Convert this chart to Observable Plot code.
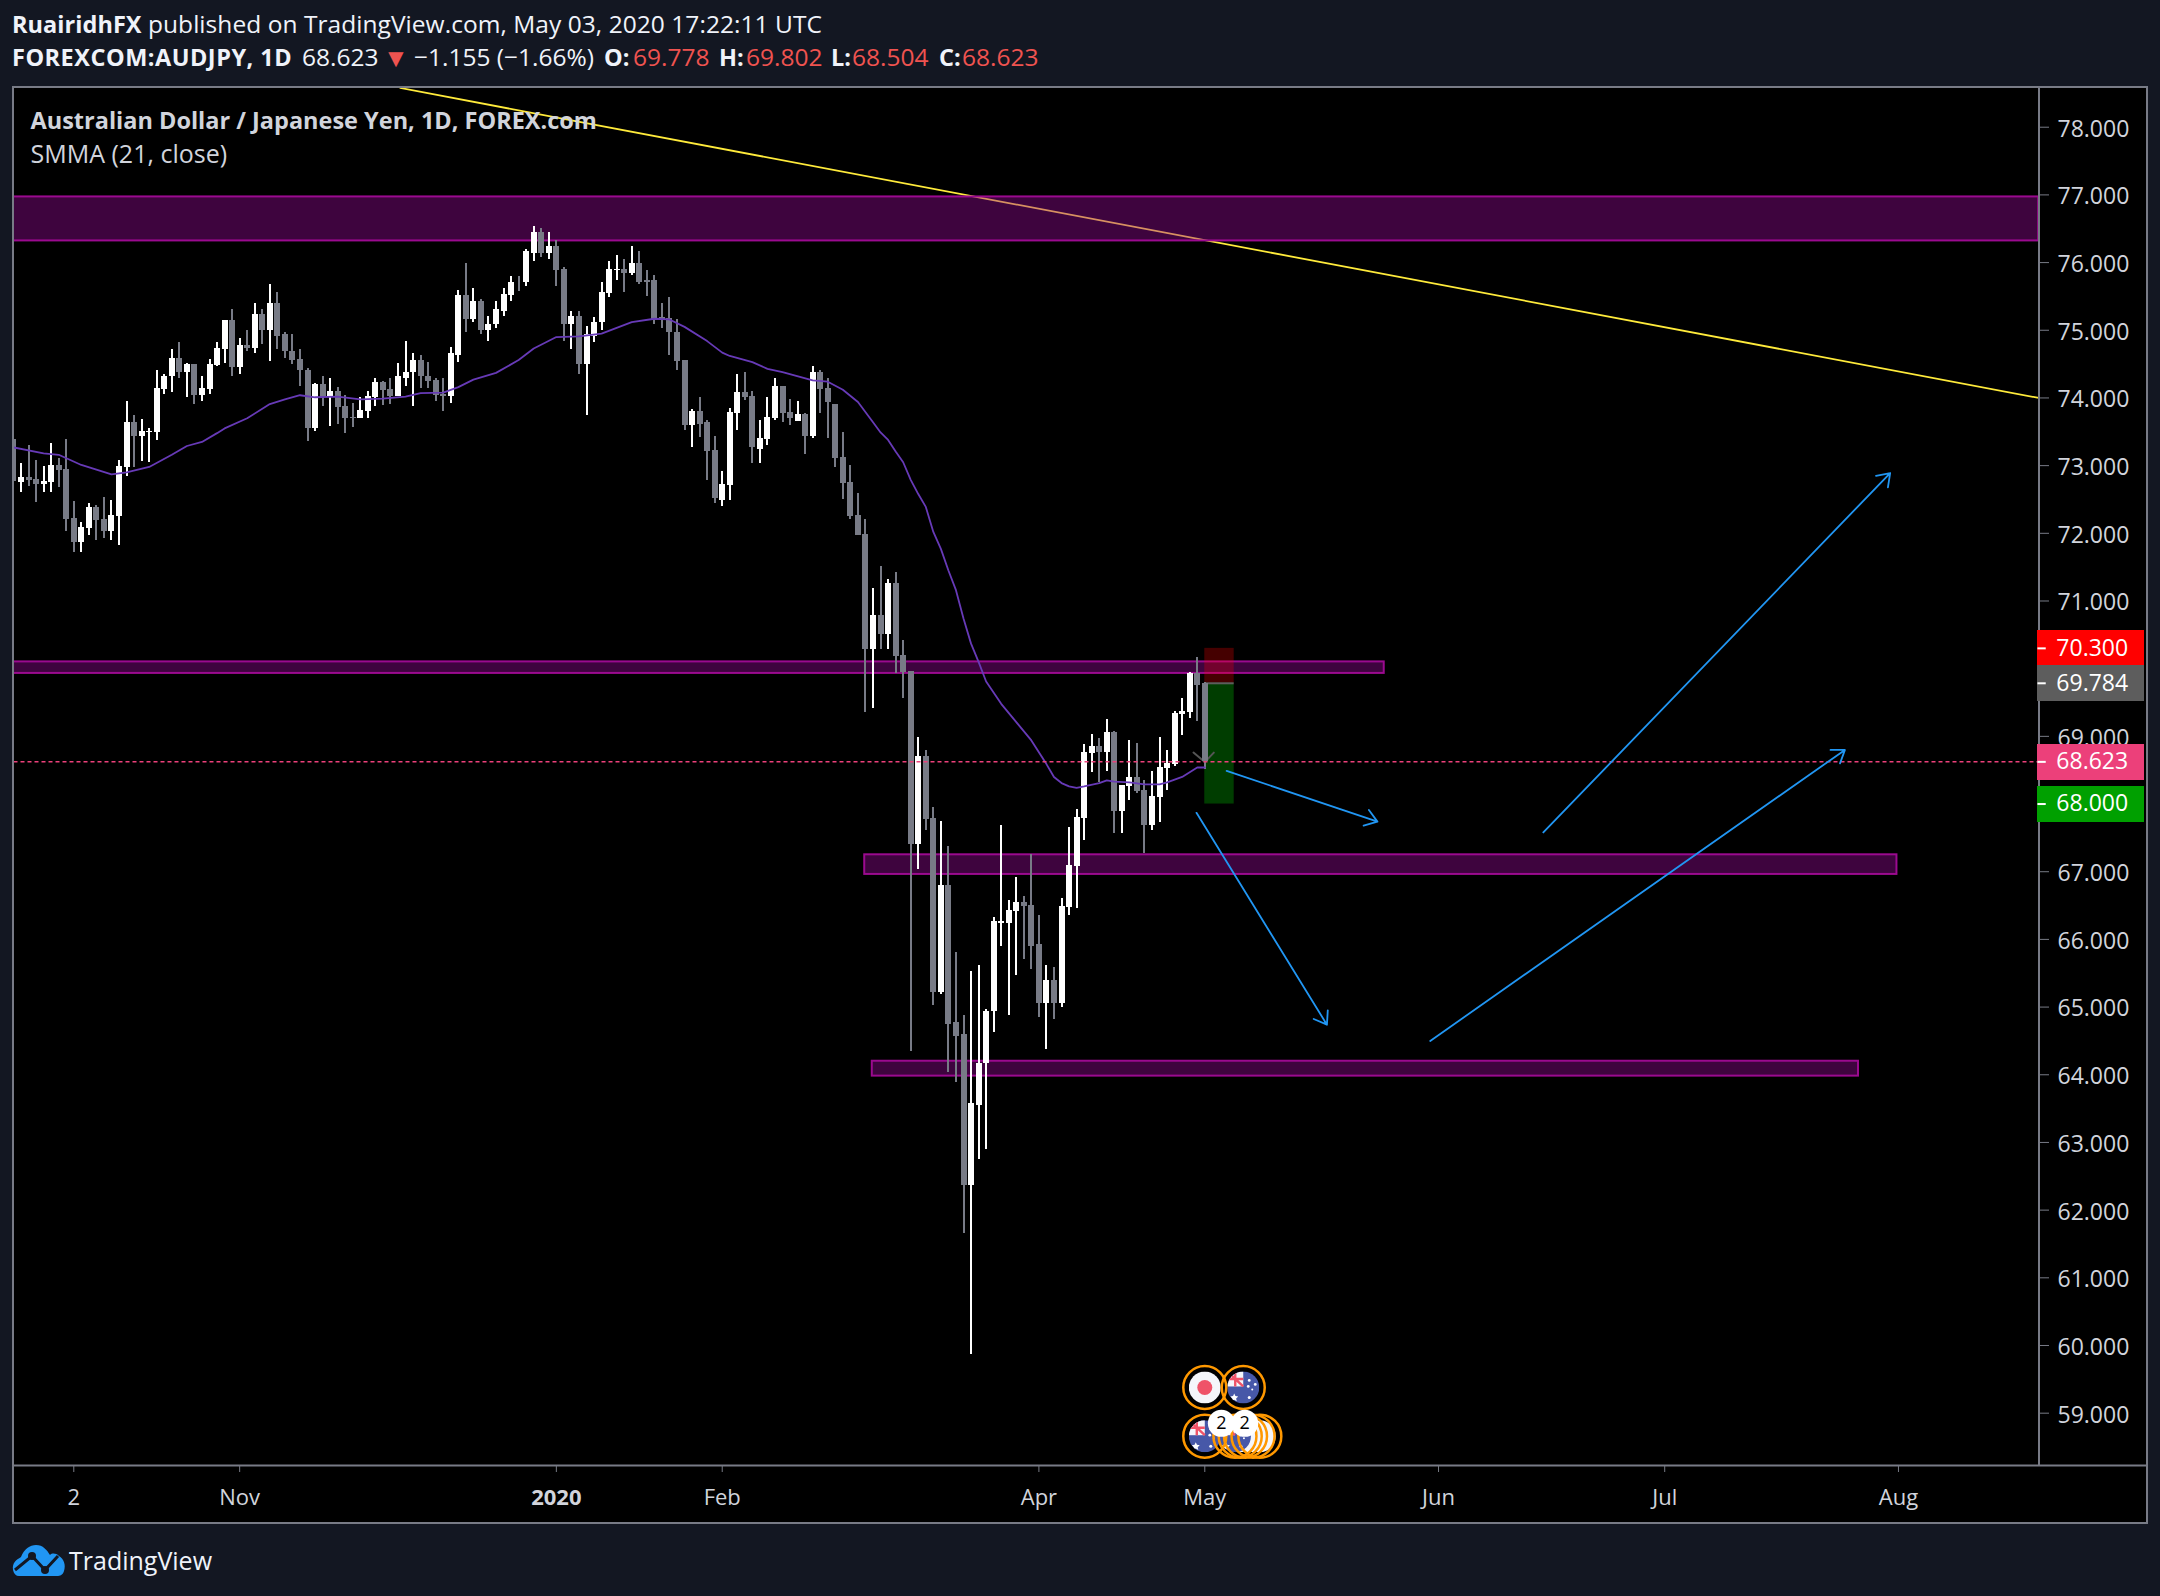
<!DOCTYPE html>
<html><head><meta charset="utf-8">
<script src="https://cdn.jsdelivr.net/npm/d3@7"></script>
<script src="https://cdn.jsdelivr.net/npm/@observablehq/plot@0.6"></script>
<style>
html,body{margin:0;padding:0;background:#131722;}
body{width:2160px;height:1596px;position:relative;overflow:hidden;font-family:"Open Sans",sans-serif;color:#fff;}
.hl{position:absolute;left:12px;font-size:24.5px;white-space:nowrap;color:#f0f3fa;line-height:30px;}
.hl b{font-weight:700;font-size:23.5px}
.hl span{position:absolute;top:0;white-space:nowrap}
.r{color:#ef5350}
#frame{position:absolute;left:12px;top:86px;width:2136px;height:1438px;box-sizing:border-box;border:2px solid #787b86;background:#000;}
#frame svg{display:block;background:transparent;}
#foot{position:absolute;left:12px;top:1543px;height:34px;display:flex;align-items:center;font-size:25px;color:#f0f3fa;}
#foot svg{margin-right:3px}
</style></head><body>
<div class="hl" style="top:9px;letter-spacing:0.05px"><b>RuairidhFX</b> published on TradingView.com, May 03, 2020 17:22:11 UTC</div>
<div class="hl" style="top:42px;left:0;width:1100px">
<span style="left:12px;letter-spacing:0.5px"><b>FOREXCOM:AUDJPY, 1D</b></span>
<span style="left:302px">68.623</span>
<span style="left:383px;font-size:26px" class="r">▼</span>
<span style="left:414px">−1.155 (−1.66%)</span>
<span style="left:604px"><b>O:</b></span><span style="left:633px" class="r">69.778</span>
<span style="left:719px"><b>H:</b></span><span style="left:746px" class="r">69.802</span>
<span style="left:831px"><b>L:</b></span><span style="left:852px" class="r">68.504</span>
<span style="left:939px"><b>C:</b></span><span style="left:962px" class="r">68.623</span>
</div>
<div id="frame"></div>
<div id="foot"><svg width="54" height="32" viewBox="0 0 54 32"><path d="M1 26 C0 19 4 16 9 13 C12 5 18 1 24 1 C31 1 35 6 38 11 C40 9 44 9 47 12 C52 15 54 21 52 27 C51 31 48 32 45 32 L7 32 C4 32 2 30 1 26 Z" fill="#2196f3"/><path d="M3 26 L20 12 L33 26 L46 12" fill="none" stroke="#131722" stroke-width="3"/><circle cx="20" cy="12" r="4" fill="#131722"/><circle cx="33" cy="26" r="4" fill="#131722"/></svg>TradingView</div>
<script>
const opens=[73.38,72.75,72.83,72.80,72.72,72.75,73.00,72.94,72.22,71.87,72.07,72.38,72.21,72.03,72.25,72.97,73.64,73.43,73.49,73.49,74.13,74.31,74.59,74.37,74.50,74.04,74.13,74.48,74.72,75.14,74.45,74.77,74.73,75.24,75.00,75.39,74.93,74.69,74.57,74.41,73.55,74.20,74.00,74.10,73.88,73.71,73.70,73.80,74.01,74.23,74.13,74.02,74.29,74.37,74.56,74.32,74.26,74.05,74.02,74.63,75.52,75.16,75.42,75.00,75.08,75.28,75.52,75.71,75.70,76.14,76.45,76.14,76.24,75.90,75.08,75.21,74.50,74.91,75.11,75.55,75.89,75.90,75.84,75.98,75.73,75.73,75.19,75.18,74.97,74.56,73.60,73.80,73.63,73.23,72.49,72.71,73.77,74.08,74.02,73.24,73.39,73.70,74.17,73.79,73.65,73.76,73.43,74.38,74.14,73.91,73.12,72.75,72.27,71.98,70.28,70.79,70.51,71.26,70.19,69.96,67.40,68.70,67.78,65.22,66.79,64.77,64.59,62.37,63.55,64.16,64.93,66.24,66.24,66.41,66.54,66.50,65.92,65.06,65.39,65.06,66.47,67.07,67.78,68.74,68.85,68.76,69.06,67.89,68.26,68.39,68.20,67.68,68.09,68.52,68.58,69.32,69.35,69.93,69.778];
const closes=[72.76,72.83,72.78,72.72,72.77,73.00,72.93,72.21,71.87,72.09,72.38,72.19,72.03,72.27,72.99,73.64,73.43,73.51,73.51,74.14,74.32,74.59,74.37,74.50,74.04,74.14,74.50,74.73,75.14,74.45,74.77,74.73,75.24,75.00,75.39,74.91,74.68,74.56,74.40,73.55,74.20,74.00,74.10,73.86,73.70,73.70,73.82,74.02,74.23,74.11,74.02,74.31,74.38,74.56,74.31,74.25,74.04,74.02,74.65,75.52,75.16,75.42,75.00,75.09,75.30,75.53,75.71,75.70,76.16,76.45,76.14,76.24,75.89,75.08,75.21,74.50,74.93,75.12,75.56,75.90,75.90,75.84,75.98,75.71,75.71,75.16,75.16,74.96,74.54,73.60,73.80,73.61,73.21,72.52,72.72,73.79,74.08,74.01,73.27,73.40,73.71,74.17,73.77,73.70,73.76,73.43,74.38,74.13,73.94,73.11,72.74,72.25,71.97,70.28,70.79,70.51,71.26,70.18,69.94,67.40,68.70,67.77,65.22,66.79,64.75,64.57,62.37,63.57,64.17,64.94,66.26,66.26,66.42,66.54,66.48,65.90,65.06,65.39,65.06,66.48,67.09,67.80,68.76,68.85,68.76,69.06,67.89,68.27,68.39,68.18,67.68,68.11,68.54,68.60,69.34,69.37,69.93,69.75,68.623];
const highs=[73.38,73.03,73.30,73.08,72.99,73.32,73.11,73.38,72.47,72.16,72.44,72.41,72.53,72.49,73.08,73.95,73.74,73.68,73.55,74.40,74.35,74.72,74.82,74.51,74.50,74.31,74.57,74.82,75.15,75.30,74.88,75.00,75.40,75.31,75.67,75.56,74.96,74.94,74.71,74.43,74.22,74.32,74.28,74.16,74.04,73.92,74.00,74.10,74.29,74.25,74.28,74.51,74.84,74.65,74.63,74.53,74.29,74.28,74.75,75.59,75.98,75.62,75.46,75.21,75.43,75.61,75.80,75.79,76.19,76.54,76.51,76.44,76.33,75.93,75.27,75.27,75.06,75.19,75.70,76.01,76.10,76.04,76.24,76.17,75.89,75.81,75.40,75.49,75.16,74.56,73.83,74.01,73.66,73.43,72.92,73.85,74.34,74.38,74.10,73.67,74.00,74.29,74.17,73.98,73.95,73.77,74.47,74.41,74.29,73.91,73.49,73.00,72.59,72.21,71.19,71.51,71.32,71.42,70.42,69.96,68.98,68.79,67.95,67.74,67.38,65.81,64.87,65.53,65.62,64.96,66.33,67.69,66.57,66.91,66.63,67.25,66.35,65.61,65.59,66.60,67.66,67.92,68.88,69.03,68.97,69.25,69.07,68.27,68.94,68.89,68.35,68.48,68.98,68.79,69.37,69.56,69.94,70.16,69.802];
const lows=[72.76,72.60,72.69,72.46,72.60,72.60,72.68,72.03,71.72,71.72,71.97,71.89,71.93,71.89,71.82,72.84,72.97,73.06,73.05,73.37,74.05,74.08,74.28,74.00,73.91,73.95,74.05,74.47,74.51,74.31,74.34,74.69,74.65,74.79,74.54,74.72,74.59,74.50,74.17,73.35,73.51,73.88,73.58,73.61,73.48,73.57,73.70,73.70,73.88,73.89,73.91,74.02,74.17,73.88,74.14,74.14,73.95,73.80,73.92,74.53,74.96,75.11,74.93,74.84,75.02,75.21,75.42,75.58,75.64,76.01,76.08,76.04,75.65,74.84,74.72,74.34,73.74,74.82,75.00,75.49,75.73,75.56,75.81,75.67,75.50,75.09,75.02,74.63,74.41,73.52,73.27,73.42,72.78,72.44,72.40,72.49,73.52,73.96,73.03,73.03,73.30,73.67,73.63,73.60,73.65,73.17,73.40,73.77,73.40,72.97,72.50,72.21,71.97,69.35,69.41,70.28,70.28,69.93,69.56,64.35,67.03,67.61,65.02,65.18,64.03,63.89,61.66,59.87,62.75,62.90,64.63,65.90,64.88,65.46,65.71,65.55,64.84,64.37,64.81,64.99,66.35,66.45,67.46,68.46,68.32,68.48,67.56,67.56,68.05,68.15,67.27,67.61,67.72,68.20,68.55,69.01,69.26,69.22,68.504];

const smmaBars=[0,4,6,9,11,13,15,18,21,23,25,27,28,31,34,36,38,40,43,46,49,52,54,57,59,61,64,67,69,72,75,78,82,85,87,89,92,94,95,98,100,102,106,108,110,112,114,115,116,117,118,119,120,121,122,123,124,125,126,127,128,129,131,133,135,137,138,139,140,141,142,144,145,146,148,150,152,153,155,157,158];
const smmaVals=[73.27,73.18,73.16,73.01,72.94,72.87,72.90,72.98,73.16,73.29,73.35,73.48,73.55,73.70,73.91,73.98,74.04,74.01,74.02,73.98,73.99,74.02,74.07,74.08,74.16,74.27,74.37,74.56,74.73,74.90,74.91,74.95,75.12,75.17,75.16,75.05,74.84,74.67,74.62,74.53,74.43,74.38,74.26,74.24,74.12,73.94,73.64,73.49,73.38,73.21,73.05,72.79,72.58,72.39,72.02,71.77,71.45,71.16,70.74,70.37,70.10,69.81,69.48,69.21,68.94,68.59,68.40,68.31,68.26,68.24,68.26,68.31,68.35,68.33,68.32,68.29,68.29,68.32,68.40,68.54,68.54];

const zoneBarFrom=[0,0,112.9,113.9];
const zoneBarTo=[268.6,181.8,249.8,244.7];
const zoneLow=[76.32,69.93,66.96,63.98];
const zoneHigh=[76.97,70.10,67.25,64.20];

const trendBars=[51.3,268.6];
const trendPrices=[78.58,74.0];

const arrowBarFrom=[160.9,156.9,187.9,202.9];
const arrowPriceFrom=[68.49,67.87,64.50,67.58];
const arrowBarTo=[180.9,174.2,242.9,248.9];
const arrowPriceTo=[67.74,64.74,68.80,72.89];

const vBars=[156.5,158,159.2];
const vPrices=[68.76,68.62,68.76];

const yTicks=[59,60,61,62,63,64,65,66,67,69,71,72,73,74,75,76,77,78];
const xTickBars=[8,30,94,136,158,189,219,250];
const xTickNames=["2","Nov","Feb","Apr","May","Jun","Jul","Aug"];
const xYearBar=[72];
const priceTags=[70.3,69.784,68.623,68.0];
const tagColors=["#ff0000","#5d5d5d","#ec407a","#00a000"];
const lastClose=68.623, stopPrice=70.3, entryPrice=69.784, targetPrice=68.0;

const bars=opens.map((o,i)=>({i,o,c:closes[i],h:highs[i],l:lows[i]}));
const candleColor=d=>d.c>=d.o?"#ffffff":"#787b86";
const smma=smmaBars.map((b,k)=>({b,v:smmaVals[k]}));
const zones=zoneLow.map((l,k)=>({x1:zoneBarFrom[k],x2:zoneBarTo[k],y1:l,y2:zoneHigh[k]}));

const flagSvg=inner=>"data:image/svg+xml,"+encodeURIComponent(`<svg xmlns="http://www.w3.org/2000/svg" width="32" height="32" viewBox="0 0 32 32"><defs><clipPath id="c"><circle cx="16" cy="16" r="16"/></clipPath></defs><g clip-path="url(#c)">${inner}</g></svg>`);
const jp=flagSvg(`<rect width="32" height="32" fill="#f5f6fa"/><circle cx="16" cy="16" r="7.5" fill="#ef5368"/>`);
const au=flagSvg(`<rect width="32" height="32" fill="#4758a8"/><rect width="16" height="15" fill="#f5f6fa"/><path d="M0 0L16 15M0 7.5H16M8 0V15" stroke="#ef5368" stroke-width="2.4"/><path d="M7 22l1.2 2.6 2.8.4-2.1 2 .6 2.8L7 28.4 4.5 29.8l.6-2.8-2.1-2 2.8-.4z" fill="#fff"/><g fill="#fff"><circle cx="22" cy="9" r="1.4"/><circle cx="28" cy="13" r="1.4"/><circle cx="21" cy="15" r="1.4"/><circle cx="25" cy="18" r="1"/><circle cx="22" cy="26" r="1.5"/></g>`);
const blank=flagSvg(`<rect width="32" height="32" fill="#f5f6fa"/>`);
const eventBars=[165.3,164.4,163.4,162.7,162,158,158,163.1];
const eventPrices=[58.66,58.66,58.66,58.66,58.66,58.66,59.38,59.38];
const eventFlags=[blank,blank,blank,blank,au,au,jp,au];
const events=eventBars.map((b,k)=>({b,p:eventPrices[k],src:eventFlags[k]}));
const badgeBars=[160.2,163.3];
const badgePrice=58.85;

const FONT='"Open Sans",sans-serif';
const xDomain=[0.07,268.64];
const yDomain=[58.227,78.572];
const chart=Plot.plot({
  width:2132,height:1434,
  marginLeft:0,marginTop:0,marginRight:107,marginBottom:57,
  style:{background:"transparent",fontFamily:FONT},
  x:{type:"linear",domain:xDomain,range:[-0.5,2024.5]},
  y:{type:"linear",domain:yDomain},
  marks:[
    Plot.line(trendBars.map((b,k)=>({b,p:trendPrices[k]})),{x:"b",y:"p",stroke:"#ffeb3b",strokeWidth:1.8,clip:true}),
    Plot.rect(zones,{x1:"x1",x2:"x2",y1:"y1",y2:"y2",fill:"#9c0a9c",fillOpacity:0.4,clip:true}),
    Plot.rect(zones,{x1:"x1",x2:"x2",y1:"y1",y2:"y2",fill:"none",stroke:"#9b0a8f",strokeWidth:2,clip:true}),
    Plot.rect([{x1:158,x2:161.9,y1:entryPrice,y2:stopPrice}],{x1:"x1",x2:"x2",y1:"y1",y2:"y2",fill:"#ff0000",fillOpacity:0.27}),
    Plot.rect([{x1:158,x2:161.9,y1:targetPrice,y2:entryPrice}],{x1:"x1",x2:"x2",y1:"y1",y2:"y2",fill:"#00ff00",fillOpacity:0.24}),
    Plot.ruleY([entryPrice],{x1:158,x2:161.9,stroke:"#5d5d5d",strokeWidth:2}),
    Plot.line(vBars.map((b,k)=>({b,p:vPrices[k]})),{x:"b",y:"p",stroke:"#555",strokeWidth:2}),
    Plot.ruleX(bars,{x:"i",y1:"l",y2:"h",stroke:candleColor,strokeWidth:2,shapeRendering:"crispEdges",clip:true}),
    Plot.ruleX(bars,{x:"i",y1:"o",y2:"c",stroke:candleColor,strokeWidth:6,shapeRendering:"crispEdges",clip:true}),
    Plot.line(smma,{x:"b",y:"v",stroke:"#673ab7",strokeWidth:1.8,clip:true}),
    Plot.ruleY([lastClose],{stroke:"#ec407a",strokeWidth:1.5,strokeDasharray:"4,3",x1:xDomain[0],x2:xDomain[1]}),
    Plot.arrow(arrowBarFrom.map((b,k)=>({x1:b,y1:arrowPriceFrom[k],x2:arrowBarTo[k],y2:arrowPriceTo[k]})),{x1:"x1",y1:"y1",x2:"x2",y2:"y2",stroke:"#2196f3",strokeWidth:1.8,headLength:12,headAngle:70}),
    Plot.image(events,{x:"b",y:"p",src:d=>d.src,width:32,height:32}),
    Plot.dot(events,{x:"b",y:"p",r:21.5,fill:"none",stroke:"#ff9800",strokeWidth:2.5}),
    Plot.dot(badgeBars,{x:d=>d,y:()=>badgePrice,r:13.5,fill:"#fff"}),
    Plot.text(badgeBars,{x:d=>d,y:()=>badgePrice,text:()=>"2",fill:"#000",fontSize:18}),
    Plot.axisY({anchor:"right",ticks:yTicks,tickSize:9,text:null,stroke:"#787b86",label:null}),
    Plot.axisY({anchor:"right",ticks:yTicks,tickFormat:d=>d.toFixed(3),tickSize:0,tickPadding:18,dy:2,color:"#d1d4dc",fontSize:23,label:null}),
    Plot.ruleX([xDomain[1]],{stroke:"#787b86",strokeWidth:2}),
    Plot.ruleY([yDomain[0]],{stroke:"#787b86",strokeWidth:2,x1:xDomain[0],x2:283}),
    Plot.axisX({anchor:"bottom",ticks:xTickBars,tickFormat:d=>xTickNames[xTickBars.indexOf(d)],tickSize:7,tickPadding:17,stroke:"#787b86",color:"#d1d4dc",fontSize:22,label:null}),
    Plot.axisX({anchor:"bottom",ticks:xYearBar,tickFormat:()=>"2020",tickSize:7,tickPadding:17,stroke:"#787b86",color:"#d1d4dc",fontSize:22,fontWeight:"bold",label:null}),
    Plot.ruleY(priceTags,{x1:268.5,x2:282.6,stroke:(d,k)=>tagColors[k],strokeWidth:36,shapeRendering:"crispEdges"}),
    Plot.ruleY(priceTags,{x1:268.5,x2:269.6,stroke:"#fff",strokeWidth:2}),
    Plot.text(priceTags,{x:275.7,y:d=>d,text:d=>d.toFixed(3),fill:"#fff",fontSize:23}),
    Plot.text(["Australian Dollar / Japanese Yen, 1D, FOREX.com"],{frameAnchor:"top-left",dx:16,dy:24,fill:"#d1d4dc",fontSize:23.5,fontWeight:"bold",textAnchor:"start"}),
    Plot.text(["SMMA (21, close)"],{frameAnchor:"top-left",dx:16,dy:57,fill:"#d1d4dc",fontSize:25,textAnchor:"start"})
  ]
});
document.getElementById("frame").appendChild(chart);
</script></body></html>
